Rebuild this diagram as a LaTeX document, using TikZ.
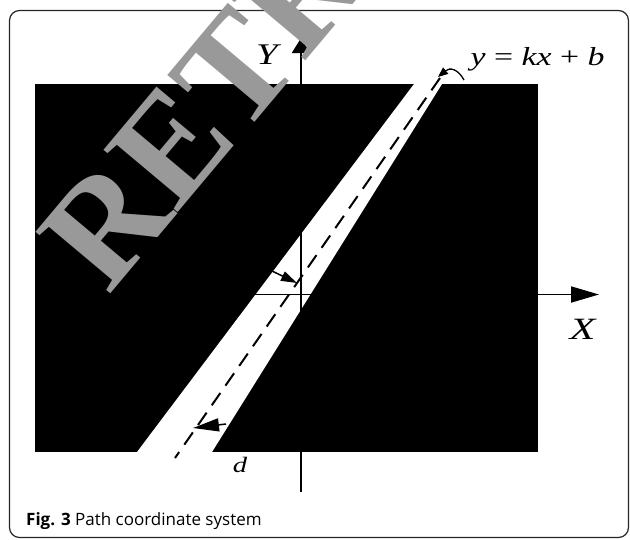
\documentclass[tikz,border=0pt]{standalone}
\usepackage{fontspec}
\setmainfont{Liberation Serif}
\newfontfamily\capfont{Open Sans}
\usetikzlibrary{arrows.meta}
\begin{document}
\begin{tikzpicture}[x=1pt,y=-1pt,
  axisline/.style={line width=1.8pt},
  mathlbl/.style={inner sep=0pt, anchor=base, xscale=1.3},
  dimarrow/.style={line width=1.5pt}]
\useasboundingbox (0,0) rectangle (630,539);
\clip (0,0) rectangle (630,539);
% frame
\draw[line width=1.2pt, rounded corners=10pt, draw=black!85] (9.5,10.5) rectangle (628.5,537.5);
% black field and white path band
\fill[black] (35,84) rectangle (538,452);
\fill[white] (414,84) -- (442,84) -- (212,452) -- (137,452) -- cycle;
% axes
\coordinate (ybot) at (301,492);
\coordinate (ytop) at (301,38);
\coordinate (xl) at (35,294.5);
\coordinate (xr) at (599,294.5);
\draw[axisline, -{Triangle[length=15pt,width=18pt]}] (ybot) -- (ytop);
\draw[axisline, -{Triangle[length=28pt,width=16pt]}] (xl) -- (xr);
% path line y = kx + b
\coordinate (ltop) at (440,78);
\coordinate (lbot) at (175,458);
\draw[line width=2pt, dash pattern=on 15pt off 9pt] (ltop) -- (lbot);
% distance arrows
\coordinate (d1s) at (272,271);
\coordinate (d1e) at (297,283);
\coordinate (d2s) at (226,424);
\coordinate (d2e) at (193,428);
\draw[dimarrow, -{Triangle[length=16pt,width=10pt]}] (d1s) -- (d1e);
\draw[dimarrow, -{Triangle[length=26pt,width=13pt]}] (d2s) -- (d2e);
% leader for equation
\coordinate (lead) at (464,80);
\draw[line width=1.3pt, -{Triangle[length=10pt,width=8pt]}] (lead) .. controls (458,69) and (450,67) .. (438,77);
% labels
\node[mathlbl, font=\fontsize{30}{30}\selectfont] (lY) at (267,64) {\itshape Y};
\node[mathlbl, font=\fontsize{31}{31}\selectfont, xscale=1.05] (lX) at (582.5,339) {\itshape X};
\node[mathlbl, font=\fontsize{26}{26}\selectfont] (leq) at (537.5,65) {\itshape y\hspace{6.5pt}\upshape=\hspace{6.5pt}\itshape kx\hspace{6.5pt}\upshape+\hspace{6.5pt}\itshape b};
\node[mathlbl, font=\fontsize{22}{22}\selectfont] (ld) at (240,472) {\itshape d};
% caption
\node[anchor=base west, inner sep=0pt, font=\capfont\fontsize{17}{20}\selectfont] (cap) at (26,525) {\textbf{Fig. 3} Path coordinate system};
% watermark
\node[rotate=50, anchor=base west, inner sep=0pt, text=black!40, font=\fontsize{148}{148}\selectfont\bfseries] (wm) at (108,297) {RETRACTED};
\end{tikzpicture}
\end{document}
